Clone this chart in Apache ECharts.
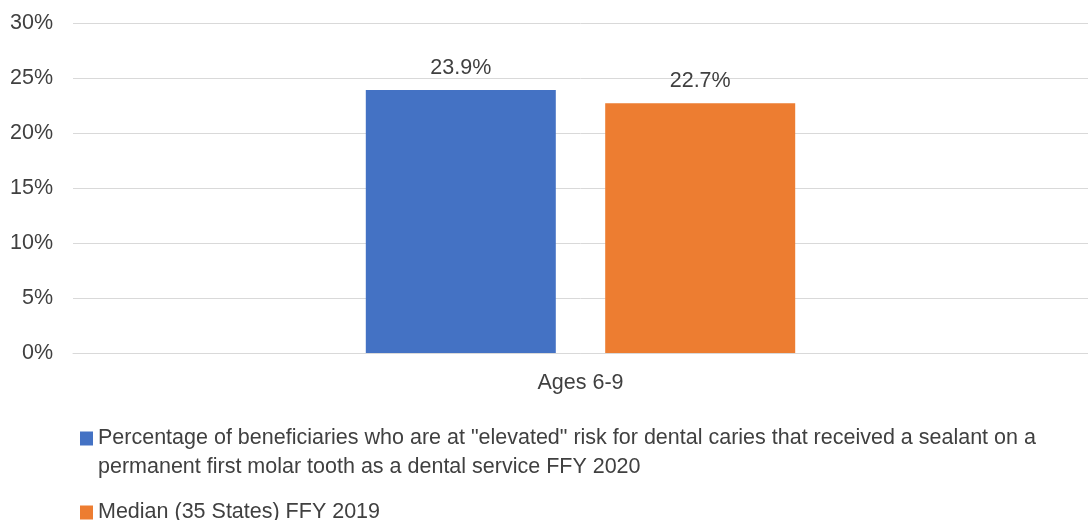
<!DOCTYPE html>
<html><head><meta charset="utf-8">
<script src="https://cdn.jsdelivr.net/npm/echarts@6/dist/echarts.min.js"></script>
<style>html,body{margin:0;padding:0;background:#fff}#c{width:1088px;height:520px}</style>
</head><body><div id="c"></div>
<script>
const categories = ["Ages 6-9"];
const seriesNames = [
  'Percentage of beneficiaries who are at "elevated" risk for dental caries that received a sealant on a permanent first molar tooth as a dental service FFY 2020',
  'Median (35 States) FFY 2019'
];
const legendLabels = [
  '\nPercentage of beneficiaries who are at "elevated" risk for dental caries that received a sealant on a\npermanent first molar tooth as a dental service FFY 2020',
  'Median (35 States) FFY 2019'
];
const stateValues = [23.9];
const medianValues = [22.7];
const colors = ['#4472C4', '#ED7D31'];
const FONT = '"Liberation Sans", Arial, sans-serif';
const TXT = '#404040';
const FS = 21.5;

const chart = echarts.init(document.getElementById('c'));
const legendText = {fontFamily: FONT, fontSize: FS, color: TXT, lineHeight: 29};
chart.setOption({
  animation: false,
  textStyle: {fontFamily: FONT},
  grid: {left: 73, right: 0, top: 23, bottom: 167},
  legend: [
    {data: [seriesNames[0]], left: 75, top: 390, itemWidth: 13, itemHeight: 14, icon: 'rect',
     itemGap: 6, formatter: () => legendLabels[0], textStyle: legendText, selectedMode: false},
    {data: [seriesNames[1]], left: 75, top: 493, itemWidth: 13, itemHeight: 14, icon: 'rect',
     formatter: () => legendLabels[1], textStyle: legendText, selectedMode: false}
  ],
  xAxis: {
    type: 'category', data: categories,
    axisLine: {lineStyle: {color: '#d9d9d9', width: 1}},
    axisTick: {show: false},
    axisLabel: {color: TXT, fontSize: FS, margin: 19, fontFamily: FONT}
  },
  yAxis: {
    type: 'value', min: 0, max: 30, interval: 5,
    axisLabel: {formatter: v => v + '%', color: TXT, fontSize: FS, margin: 20, fontFamily: FONT},
    splitLine: {lineStyle: {color: '#d9d9d9', width: 1}},
    axisLine: {show: false}, axisTick: {show: false}
  },
  series: [
    {name: seriesNames[0], type: 'bar', data: stateValues, barWidth: 190, barGap: '26%',
     itemStyle: {color: colors[0]},
     label: {show: true, position: 'top', distance: 11, formatter: p => p.value.toFixed(1) + '%', color: TXT, fontSize: FS, fontFamily: FONT}},
    {name: seriesNames[1], type: 'bar', data: medianValues, barWidth: 190,
     itemStyle: {color: colors[1]},
     label: {show: true, position: 'top', distance: 11, formatter: p => p.value.toFixed(1) + '%', color: TXT, fontSize: FS, fontFamily: FONT}}
  ]
});
</script></body></html>
